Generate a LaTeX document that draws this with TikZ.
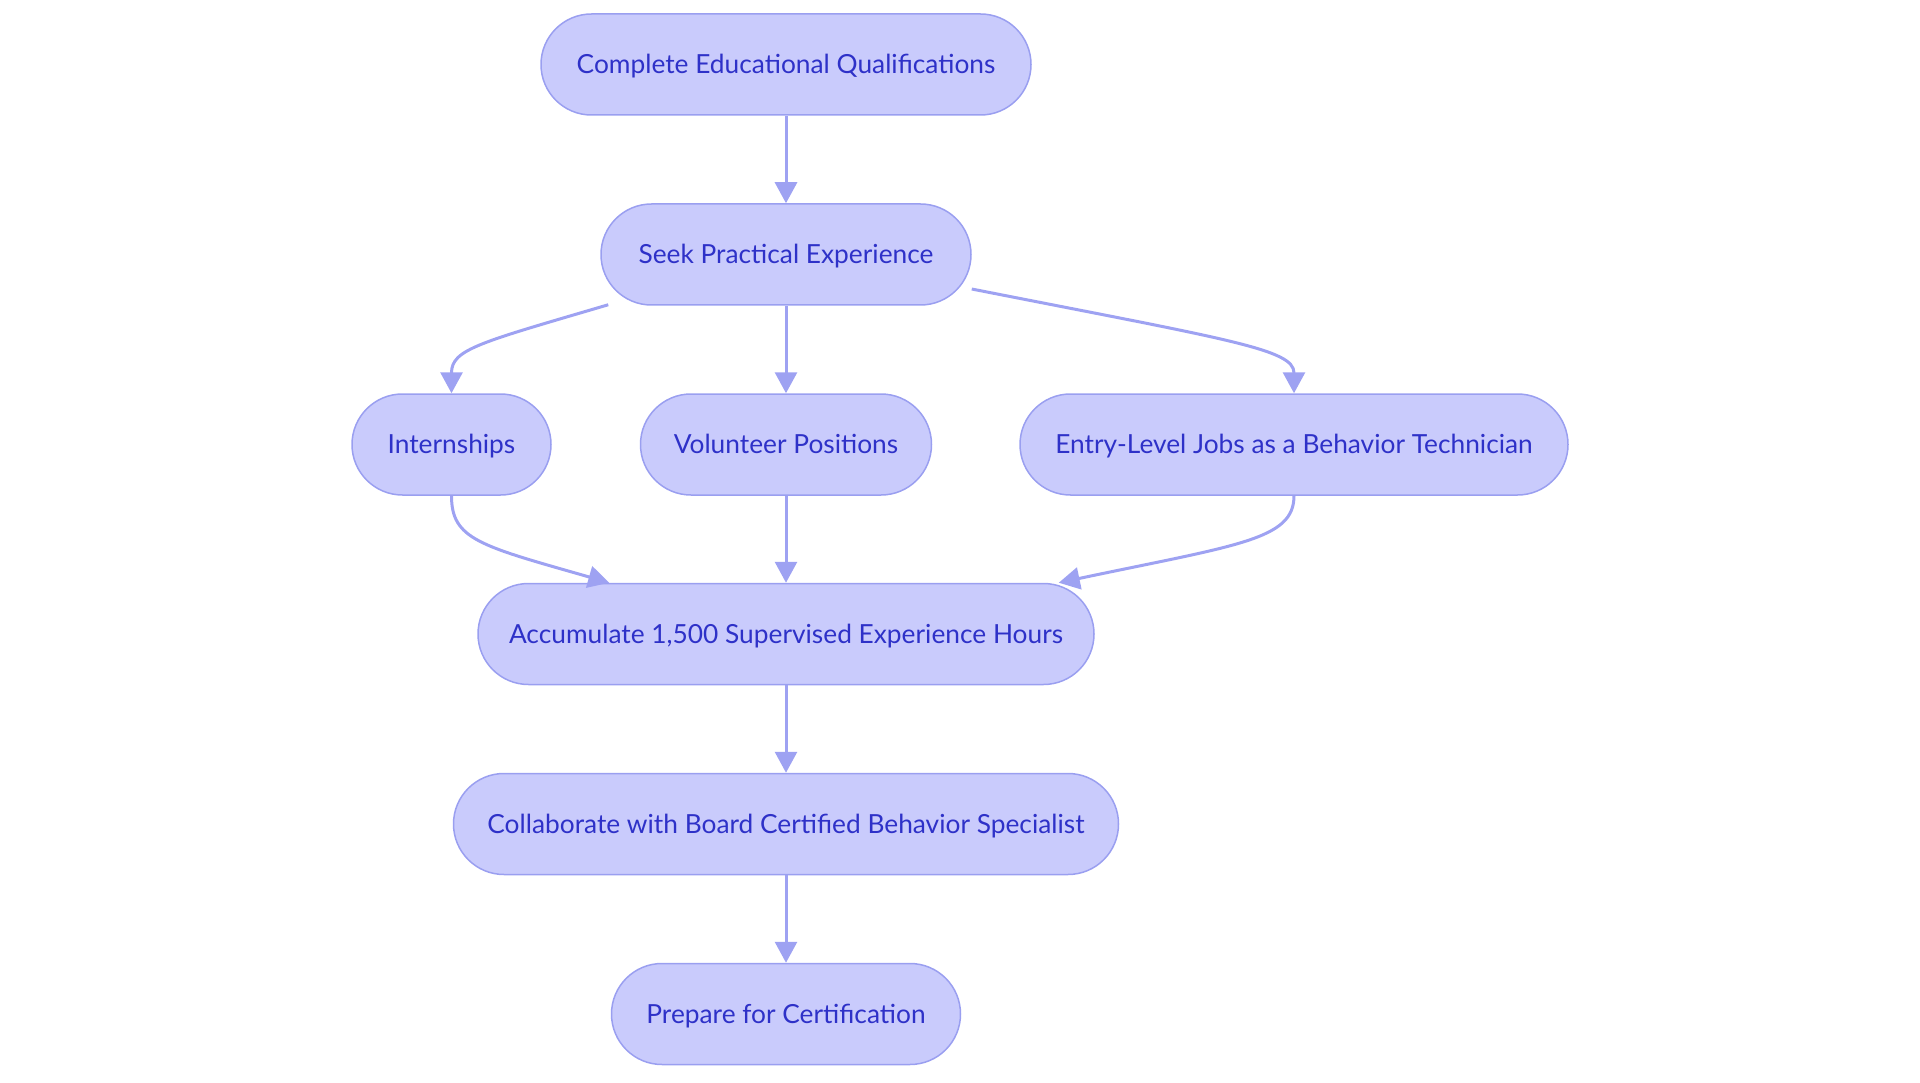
\documentclass[tikz,border=0pt]{standalone}
\usepackage{fontspec}
\setmainfont{Lato}
\usetikzlibrary{arrows.meta}
\definecolor{nodefill}{HTML}{C9CBFC}
\definecolor{nodeline}{HTML}{9A9FF0}
\definecolor{edgeline}{HTML}{9EA2F2}
\definecolor{nodetext}{HTML}{2E31C8}
\tikzset{
  stepbox/.style={draw=nodeline, line width=1.5pt, fill=nodefill, rounded corners=50.5pt,
    minimum height=101pt, inner sep=0pt, text=nodetext, font=\fontsize{26.3}{31}\selectfont,
    text height=21pt, text depth=3pt},
  flow/.style={draw=edgeline, line width=3pt, -{Triangle[length=21pt,width=22pt]}}
}
\begin{document}
\begin{tikzpicture}[x=1pt,y=-1pt]
\useasboundingbox (0,0) rectangle (1920,1083);
\node[stepbox, minimum width=490pt] (edu) at (786,64.5) {Complete Educational Qualifications};
\node[stepbox, minimum width=370pt] (seek) at (786,254.5) {Seek Practical Experience};
\node[stepbox, minimum width=199pt] (intern) at (451.5,444.5) {Internships};
\node[stepbox, minimum width=291pt] (vol) at (786,444.5) {Volunteer Positions};
\node[stepbox, minimum width=548pt] (entry) at (1294,444.5) {Entry-Level Jobs as a Behavior Technician};
\node[stepbox, minimum width=616pt] (acc) at (786,634) {Accumulate 1,500 Supervised Experience Hours};
\node[stepbox, minimum width=665pt] (collab) at (786,824) {Collaborate with Board Certified Behavior Specialist};
\node[stepbox, minimum width=349pt] (prep) at (786,1014) {Prepare for Certification};

\draw[flow] (edu.south) -- (seek.north);
\draw[flow] ([xshift=8pt,yshift=1pt]seek.south west) .. controls +(-129,38) and +(0,-44) .. (intern.north);
\draw[flow] (seek.south) -- (vol.north);
\draw[flow] ([yshift=-34.5pt]seek.east) .. controls +(259,51) and +(0,-44) .. (entry.north);
\draw[flow] (intern.south) .. controls +(0,44) and +(-129,-37) .. ([xshift=132pt]acc.north west);
\draw[flow] (vol.south) -- (acc.north);
\draw[flow] (entry.south) .. controls +(0,44) and +(180,-38) .. ([xshift=-36pt]acc.north east);
\draw[flow] (acc.south) -- (collab.north);
\draw[flow] (collab.south) -- (prep.north);
\end{tikzpicture}
\end{document}
